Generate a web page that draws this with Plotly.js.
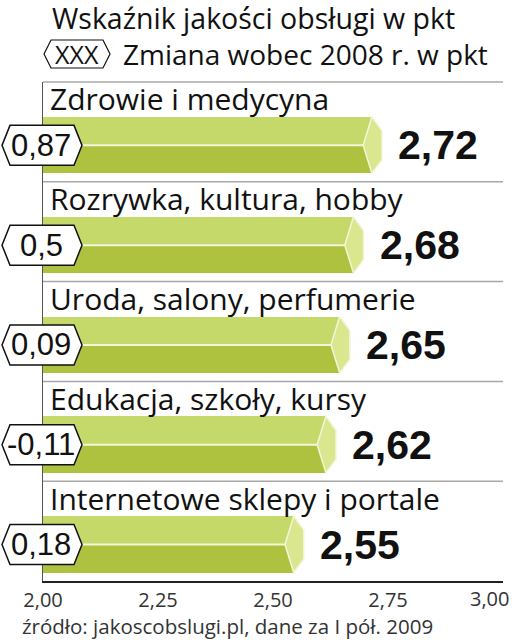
<!DOCTYPE html>
<html>
<head>
<meta charset="utf-8">
<script src="https://cdn.plot.ly/plotly-3.0.1.min.js"></script>
<style>html,body{margin:0;padding:0;background:#fff;}#chart{width:514px;height:640px;}</style>
</head>
<body>
<div id="chart"></div>
<script>
// ---- data ----
const categories = ["Zdrowie i medycyna", "Rozrywka, kultura, hobby", "Uroda, salony, perfumerie", "Edukacja, szkoły, kursy", "Internetowe sklepy i portale"];
const scores = [2.72, 2.68, 2.65, 2.62, 2.55];
const changes = [0.87, 0.5, 0.09, -0.11, 0.18];
const tickValues = [2.00, 2.25, 2.50, 2.75, 3.00];
const tickLabels = ["2,00", "2,25", "2,50", "2,75", "3,00"];
const titleText = "Wskaźnik jakości obsługi w pkt";
const legendText = "Zmiana wobec 2008 r. w pkt";
const sourceText = "źródło: jakoscobslugi.pl, dane za I pół. 2009";

// ---- layout geometry ----
const W = 514, H = 640;
const M = {l: 43, r: 11, t: 82, b: 59};
const plotW = W - M.l - M.r, plotH = H - M.t - M.b;
const px2x = px => (px - M.l) / plotW;
const py2y = py => (H - M.b - py) / plotH;
const nRows = categories.length;
const fmt = v => String(v).replace('.', ',');
const fmt2 = v => v.toFixed(2).replace('.', ',');

const barTop = 0.35, barMid = 0.635, barBot = 0.915;
const TOP_C = '#c5d96b', BOT_C = '#afc23f', FACE_C = '#dbe78f', DIV_C = '#f3f6d8';

const rows = categories.map((c, i) => i);
const traces = [
  {type: 'bar', orientation: 'h', base: 2, x: scores.map(v => v - 0.005 - 2),
   y: rows.map(i => i + (barTop + barMid) / 2), width: barMid - barTop,
   marker: {color: TOP_C, line: {width: 0}}, hoverinfo: 'skip'},
  {type: 'bar', orientation: 'h', base: 2, x: scores.map(v => v - 0.005 - 2),
   y: rows.map(i => i + (barMid + barBot) / 2), width: barBot - barMid,
   marker: {color: BOT_C, line: {width: 0}}, hoverinfo: 'skip'}
];

const shapes = [];
const annotations = [];

// separators
for (let i = 0; i < nRows; i++) {
  shapes.push({type: 'line', xref: 'paper', yref: 'paper', x0: 0, x1: 1, y0: 1 - i / nRows, y1: 1 - i / nRows,
    line: {color: '#a8a8a8', width: 1.5}, layer: 'above'});
}

scores.forEach((v, i) => {
  // divider between halves
  shapes.push({type: 'line', xref: 'x', yref: 'y', x0: 2, x1: v - 0.024, y0: i + barMid, y1: i + barMid,
    line: {color: DIV_C, width: 2}, layer: 'above'});
  // end face
  const a = v - 0.005, n = v - 0.024, t = v + 0.017;
  shapes.push({type: 'path', xref: 'x', yref: 'y', layer: 'above',
    path: `M${a},${i + barTop} L${t},${i + 0.49} L${t},${i + 0.78} L${a},${i + barBot} L${n},${i + barMid} Z`,
    fillcolor: FACE_C, line: {color: DIV_C, width: 1.5}});
  // category label
  annotations.push({xref: 'x', yref: 'y', x: 2, y: i + 0.17, xshift: 5, xanchor: 'left', yanchor: 'middle',
    text: categories[i], showarrow: false, font: {family: 'Open Sans', size: 30, color: '#111'}});
  // value label
  annotations.push({xref: 'x', yref: 'y', x: v, y: i + barMid, xshift: 22, xanchor: 'left', yanchor: 'middle',
    text: '<b>' + fmt2(v) + '</b>', showarrow: false, font: {family: 'Liberation Sans', size: 41, color: '#111'}});
  // change hexagon
  const cy = 1 - (i + barMid) / nRows, hh = 20 / plotH;
  shapes.push({type: 'path', xref: 'paper', yref: 'paper', layer: 'above',
    path: `M${px2x(2)},${cy} L${px2x(10)},${cy + hh} L${px2x(74)},${cy + hh} L${px2x(82)},${cy} L${px2x(74)},${cy - hh} L${px2x(10)},${cy - hh} Z`,
    fillcolor: '#fff', line: {color: '#111', width: 1.5}});
  annotations.push({xref: 'paper', yref: 'paper', x: px2x(41), y: cy, xanchor: 'center', yanchor: 'middle',
    text: fmt(changes[i]), showarrow: false, font: {family: 'Liberation Sans', size: 31, color: '#111'}});
});

// titles
annotations.push({xref: 'paper', yref: 'paper', x: px2x(50), y: py2y(18), xanchor: 'left', yanchor: 'middle',
  text: titleText, showarrow: false, font: {family: 'Open Sans', size: 28.5, color: '#111'}});
// legend hexagon
const ly = py2y(54), lh = 14 / plotH;
shapes.push({type: 'path', xref: 'paper', yref: 'paper', layer: 'above',
  path: `M${px2x(44)},${ly} L${px2x(51)},${ly + lh} L${px2x(103)},${ly + lh} L${px2x(110)},${ly} L${px2x(103)},${ly - lh} L${px2x(51)},${ly - lh} Z`,
  fillcolor: '#fff', line: {color: '#111', width: 1.2}});
annotations.push({xref: 'paper', yref: 'paper', x: px2x(77), y: ly, xanchor: 'center', yanchor: 'middle',
  text: 'XXX', showarrow: false, font: {family: 'Open Sans', size: 25, color: '#111'}});
annotations.push({xref: 'paper', yref: 'paper', x: px2x(121), y: ly, xanchor: 'left', yanchor: 'middle',
  text: legendText, showarrow: false, font: {family: 'Open Sans', size: 28, color: '#111'}});
// last tick label
annotations.push({xref: 'x', yref: 'paper', x: tickValues[tickValues.length - 1], y: py2y(598), xanchor: 'right', yanchor: 'middle', xshift: 8,
  text: tickLabels[tickLabels.length - 1], showarrow: false, font: {family: 'Open Sans', size: 20, color: '#333'}});
// source
annotations.push({xref: 'paper', yref: 'paper', x: px2x(20), y: py2y(642), xanchor: 'left', yanchor: 'bottom',
  text: sourceText, showarrow: false, font: {family: 'Open Sans', size: 20.5, color: '#333'}});

const layout = {
  width: W, height: H, margin: M, paper_bgcolor: '#fff', plot_bgcolor: '#fff',
  showlegend: false, barmode: 'overlay', bargap: 0,
  xaxis: {range: [2, 3], showgrid: false, zeroline: false, showline: true, linecolor: '#222', linewidth: 2,
    tickvals: tickValues.slice(0, -1), ticktext: tickLabels.slice(0, -1), ticks: '', ticklabelstandoff: 0,
    tickfont: {family: 'Open Sans', size: 20, color: '#333'}, fixedrange: true, automargin: false},
  yaxis: {range: [nRows, 0], showgrid: false, zeroline: false, showline: true, linecolor: '#555', linewidth: 1.5,
    showticklabels: false, ticks: '', fixedrange: true, automargin: false},
  shapes: shapes, annotations: annotations
};

Plotly.newPlot('chart', traces, layout, {displayModeBar: false, staticPlot: true});
</script>
</body>
</html>
